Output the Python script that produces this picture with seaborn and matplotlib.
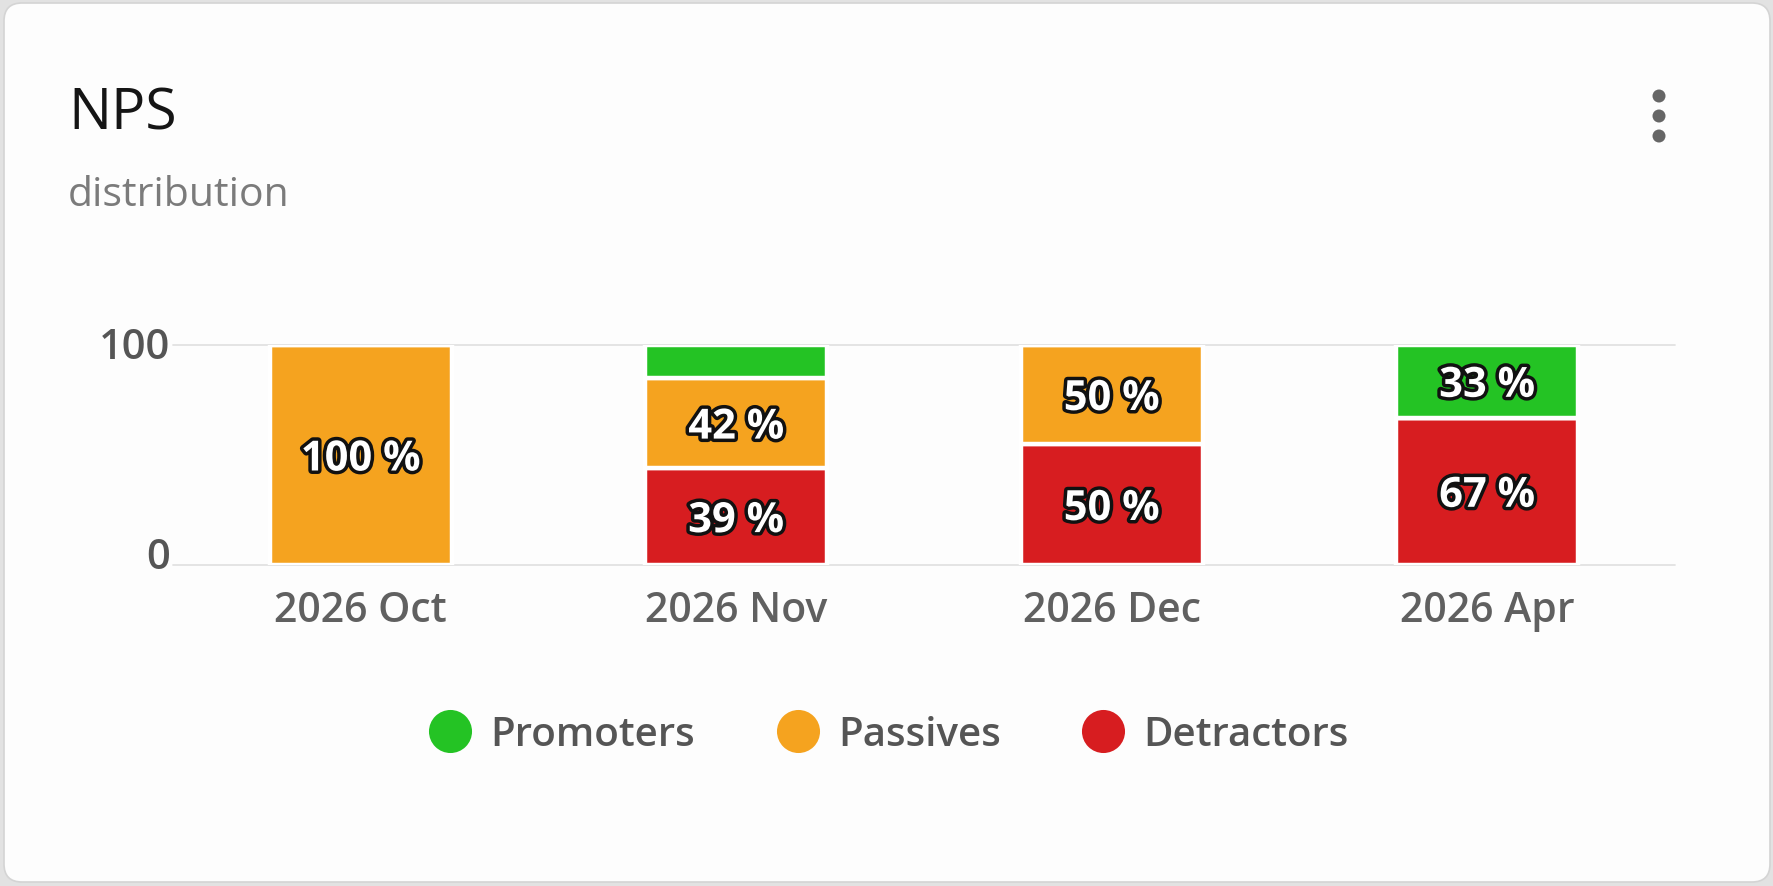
import matplotlib
matplotlib.use('Agg')
import matplotlib.pyplot as plt
import seaborn as sns
import pandas as pd
import numpy as np
from matplotlib.patches import FancyBboxPatch, Circle
import matplotlib.patheffects as pe
from matplotlib.lines import Line2D
from matplotlib.transforms import ScaledTranslation

# ---- data ----
months = ['2026 Oct', '2026 Nov', '2026 Dec', '2026 Apr']
promoters = [0, 15, 0, 33]
passives = [100, 41, 45, 0]
detractors = [0, 44, 55, 67]
promoter_labels = ['', '', '', '33 %']
passive_labels = ['100 %', '42 %', '50 %', '']
detractor_labels = ['', '39 %', '50 %', '67 %']
series = ['Promoters', 'Passives', 'Detractors']
colors = {'Promoters': '#24C324', 'Passives': '#F5A31F', 'Detractors': '#D71D20'}

df = pd.DataFrame({'month': months, 'Promoters': promoters,
                   'Passives': passives, 'Detractors': detractors})
labels_map = {'Promoters': promoter_labels, 'Passives': passive_labels,
              'Detractors': detractor_labels}

sns.set_theme(style='white')
plt.rcParams['font.family'] = ['Open Sans', 'DejaVu Sans']

fig = plt.figure(figsize=(17.74, 8.87), dpi=100, facecolor='#e2e2e2')

# background card (pixel coordinates)
bg = fig.add_axes([0, 0, 1, 1], zorder=0)
bg.set_xlim(0, 1774)
bg.set_ylim(887, 0)
bg.axis('off')
bg.add_patch(FancyBboxPatch((4, 4), 1766, 879,
                            boxstyle='round,pad=0,rounding_size=18',
                            fc='#fdfdfd', ec='#d4d4d4', lw=1.2))
for y in [97, 117, 137]:
    bg.add_patch(Circle((1659, y), 6.5, fc='#666666', ec='none'))
bg.text(68, 129, 'NPS', fontsize=41, color='#151515', va='baseline', ha='left')
bg.text(68, 206, 'distribution', fontsize=29.5, color='#7b7b7b', va='baseline', ha='left')

# main chart
ax = fig.add_axes([173 / 1774, 1 - 566 / 887, 1502 / 1774, 220 / 887], zorder=1)
ax.patch.set_alpha(0)

lab_shift = ScaledTranslation(0, -5 / 100, fig.dpi_scale_trans)
bottom = np.zeros(len(months))
for s in ['Detractors', 'Passives', 'Promoters']:
    vals = df[s].values.astype(float)
    sns.barplot(data=df, x='month', y=s, order=months, color=colors[s],
                saturation=1, width=0.485, bottom=bottom.copy(),
                edgecolor='white', linewidth=3.2, ax=ax)
    for i, (v, lab) in enumerate(zip(vals, labels_map[s])):
        if lab:
            ax.text(i, bottom[i] + v / 2, lab, ha='center', va='center',
                    fontsize=30, fontweight='bold', color='white', zorder=5,
                    transform=ax.transData + lab_shift,
                    path_effects=[pe.withStroke(linewidth=5, foreground='#111111')])
    bottom += vals

ax.set_xlim(-0.5, 3.5)
ax.set_ylim(0, 100)
ax.set_yticks([0, 100])
ax.grid(axis='y', color='#e2e2e2', lw=1.3)
ax.set_axisbelow(True)
for line in ax.get_ygridlines():
    line.set_clip_on(False)
sns.despine(ax=ax, left=True, bottom=True)
ax.set_xlabel('')
ax.set_ylabel('')
ax.tick_params(axis='y', length=0, pad=2, labelsize=30, labelcolor='#555555')
ax.tick_params(axis='x', length=0, pad=17, labelsize=29.5, labelcolor='#606060')
for tick in ax.yaxis.get_major_ticks():
    lab = tick.label1
    lab.set_fontweight('semibold')
    off = 13 if lab.get_text() == '0' else 3
    lab.set_transform(lab.get_transform() + ScaledTranslation(0, off / 100, fig.dpi_scale_trans))
for tick in ax.xaxis.get_major_ticks():
    tick.label1.set_fontweight('semibold')

handles = [Line2D([], [], marker='o', ls='', markersize=31,
                  markerfacecolor=colors[s], markeredgecolor='none') for s in series]
fig.legend(handles, series, loc='center', bbox_to_anchor=(0.5014, 0.1698), ncol=3,
           frameon=False, handlelength=1.0, handletextpad=0.5,
           columnspacing=2.04, labelcolor='#555555',
           prop={'size': 29, 'weight': 'semibold'})

fig.savefig('out.png', dpi=100, facecolor=fig.get_facecolor())
